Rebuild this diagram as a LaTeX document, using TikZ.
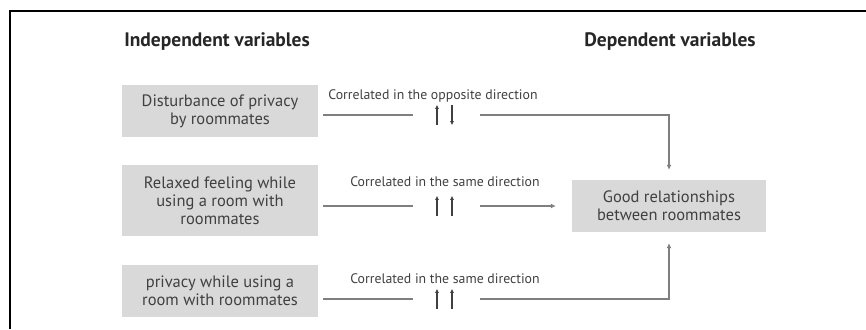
\documentclass[tikz,border=0pt]{standalone}
\usepackage{fontspec}
\setmainfont{PT Sans}
\usetikzlibrary{arrows.meta}
\definecolor{boxgray}{HTML}{D9D9D9}
\definecolor{linegray}{HTML}{7F7F7F}
\definecolor{txt}{HTML}{404040}
\begin{document}
\begin{tikzpicture}[x=1pt,y=-1pt,
  box/.style={fill=boxgray, inner sep=0pt, align=center, minimum width=196pt,
    text=txt, font=\fontsize{16.5}{18}\selectfont},
  title/.style={font=\bfseries\fontsize{19.5}{22}\selectfont, text=black!85},
  lab/.style={font=\fontsize{13.8}{15}\selectfont, text=txt, inner sep=0pt},
  sym/.style={minimum width=67pt, minimum height=20pt, inner sep=0pt},
  conn/.style={draw=linegray, line width=1.6pt},
  tip/.style={-{Latex[length=5pt,width=5pt]}},
  symarrow/.style={draw=txt, line width=1.3pt, -{Latex[length=4pt,width=4pt]}}]
\useasboundingbox (0,0) rectangle (866,329);
\draw[line width=2pt] (10,329) -- (10,11) -- (866,11);

\node[title] (t1) at (217,42) {Independent variables};
\node[title] (t2) at (670,42) {Dependent variables};

\node[box, minimum height=52pt] (b1) at (220,111) {Disturbance of privacy\\by roommates};
\node[box, minimum height=71pt] (b2) at (220,200.5) {Relaxed feeling while\\using a room with\\roommates};
\node[box, minimum height=52pt] (b3) at (220,291) {privacy while using a\\room with roommates};
\node[box, minimum width=194pt, minimum height=52pt] (g) at (669,206) {Good relationships\\between roommates};

\node[sym] (s1) at (446.5,115) {};
\node[sym] (s2) at (446.5,206) {};
\node[sym] (s3) at (446.5,299) {};

\node[lab] (l1) at (433,96) {Correlated in the opposite direction};
\node[lab] (l2) at (445,182) {Correlated in the same direction};
\node[lab] (l3) at (445,279) {Correlated in the same direction};

\draw[symarrow] ([xshift=-9.5pt]s1.south) -- ([xshift=-9.5pt]s1.north);
\draw[symarrow] ([xshift=5.5pt]s1.north) -- ([xshift=5.5pt]s1.south);
\draw[symarrow] ([xshift=-9.5pt]s2.south) -- ([xshift=-9.5pt]s2.north);
\draw[symarrow] ([xshift=5.5pt]s2.south) -- ([xshift=5.5pt]s2.north);
\draw[symarrow] ([xshift=-9.5pt]s3.south) -- ([xshift=-9.5pt]s3.north);
\draw[symarrow] ([xshift=5.5pt]s3.south) -- ([xshift=5.5pt]s3.north);

\draw[conn, shorten <=5pt] (s1.west -| b1.east) -- (s1.west);
\draw[conn, shorten <=5pt] (s2.west -| b2.east) -- (s2.west);
\draw[conn, shorten <=5pt] (s3.west -| b3.east) -- (s3.west);

\draw[conn, tip, shorten >=10pt] (s1.east) -| (g.north);
\draw[conn, tip, shorten >=16pt] (s2.east) -- (s2.east -| g.west);
\draw[conn, tip, shorten >=11pt] (s3.east) -| (g.south);
\end{tikzpicture}
\end{document}
